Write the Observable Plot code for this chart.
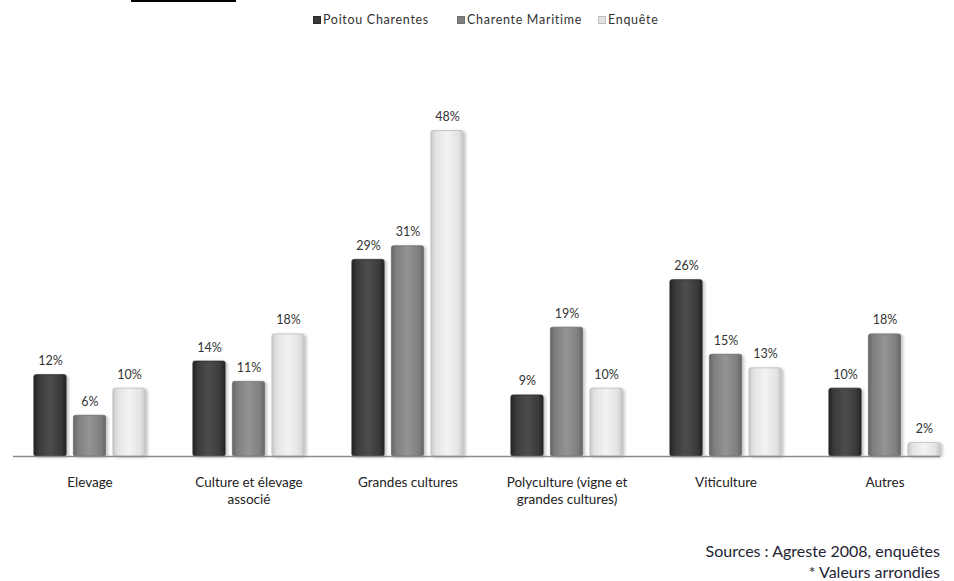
<!DOCTYPE html>
<html>
<head>
<meta charset="utf-8">
<script src="https://cdn.jsdelivr.net/npm/d3@7"></script>
<script src="https://cdn.jsdelivr.net/npm/@observablehq/plot@0.6"></script>
<style>
  html, body { margin: 0; padding: 0; background: #fff; }
  #page { position: relative; width: 954px; height: 581px; overflow: hidden; font-family: Lato, "DejaVu Sans", sans-serif; color: #333; }
  #topline { position: absolute; left: 131px; top: 0; width: 105px; height: 2px; background: #000; }
  .leg { position: absolute; top: 12px; font-size: 12.5px; letter-spacing: 0.7px; color: #333; line-height: 16px; white-space: nowrap; }
  .sw { position: absolute; top: 16px; width: 8px; height: 8px; }
  #chart { position: absolute; left: 0; top: 40px; }
  .src { position: absolute; right: 14px; font-size: 16px; line-height: 14px; color: #1e2433; white-space: nowrap; }
</style>
</head>
<body>
<div id="page">
  <div id="topline"></div>
  <div id="legend"></div>
  <div id="chart"></div>
  <div class="src" style="top:544px;">Sources : Agreste 2008, enquêtes</div>
  <div class="src" style="top:565px;">* Valeurs arrondies</div>
</div>
<script>
const series = ["Poitou Charentes", "Charente Maritime", "Enquête"];
const categories = [
  "Elevage",
  "Culture et élevage\nassocié",
  "Grandes cultures",
  "Polyculture (vigne et\ngrandes cultures)",
  "Viticulture",
  "Autres"
];
const poitouCharentes = [12, 14, 29, 9, 26, 10];
const charenteMaritime = [6, 11, 31, 19, 15, 18];
const enquete = [10, 18, 48, 10, 13, 2];

const seriesValues = [poitouCharentes, charenteMaritime, enquete];
const baseColors = ["#3a3a3a", "#7f7f7f", "#e3e3e3"];
const edgeColors = ["#232323", "#666666", "#c9c9c9"];
const lightColors = ["#4d4d4d", "#949494", "#f3f3f3"];
const strokeColors = ["#2a2a2a", "#6e6e6e", "#bdbdbd"];
const offsets = [-39.5, 0, 39.5];

const data = [];
series.forEach((s, k) => {
  categories.forEach((c, i) => data.push({ category: c, series: s, k, value: seriesValues[k][i] }));
});

// legend
const legend = document.getElementById("legend");
const legPos = [[313, 323], [457, 467], [598, 608]];
series.forEach((s, k) => {
  const sw = document.createElement("div");
  sw.className = "sw";
  sw.style.left = legPos[k][0] + "px";
  sw.style.background = baseColors[k];
  sw.style.border = "1px solid " + strokeColors[k];
  sw.style.boxSizing = "border-box";
  legend.appendChild(sw);
  const t = document.createElement("div");
  t.className = "leg";
  t.style.left = legPos[k][1] + "px";
  t.textContent = s;
  legend.appendChild(t);
});

const marks = [];
series.forEach((s, k) => {
  const sub = data.filter(d => d.k === k);
  marks.push(Plot.barY(sub, {
    x: "category", y: "value",
    fill: `url(#barGrad${k})`,
    stroke: strokeColors[k], strokeWidth: 0.8,
    insetLeft: 63.4, insetRight: 63.4, dx: offsets[k], rx: 2
  }));
  marks.push(Plot.text(sub, {
    x: "category", y: "value", text: d => d.value + "%",
    dx: offsets[k], dy: -14, fontSize: 12.5, fill: "#333"
  }));
});
marks.push(Plot.ruleY([0], { stroke: "#8a8a8a", strokeWidth: 1.3 }));
marks.push(Plot.text(categories, {
  x: d => d, frameAnchor: "bottom", lineAnchor: "top", dy: 18,
  text: d => d, fontSize: 13.5, lineHeight: 1.27, fill: "#222"
}));

const chart = Plot.plot({
  width: 954,
  height: 490,
  marginLeft: 13,
  marginRight: 14,
  marginTop: 77,
  marginBottom: 74,
  style: { fontFamily: "Lato, 'DejaVu Sans', sans-serif", background: "transparent", overflow: "visible" },
  x: { domain: categories, range: [9.9, 965], padding: 0, axis: null },
  y: { domain: [0, 50], axis: null },
  marks
});

// gradient defs for the bevelled bars
const ns = "http://www.w3.org/2000/svg";
const defs = document.createElementNS(ns, "defs");
series.forEach((s, k) => {
  const g = document.createElementNS(ns, "linearGradient");
  g.setAttribute("id", "barGrad" + k);
  g.setAttribute("x1", "0"); g.setAttribute("x2", "1");
  g.setAttribute("y1", "0"); g.setAttribute("y2", "0");
  [[0, edgeColors[k]], [0.15, baseColors[k]], [0.5, lightColors[k]], [0.85, baseColors[k]], [1, edgeColors[k]]].forEach(([o, c]) => {
    const st = document.createElementNS(ns, "stop");
    st.setAttribute("offset", o);
    st.setAttribute("stop-color", c);
    g.appendChild(st);
  });
  defs.appendChild(g);
});
const f = document.createElementNS(ns, "filter");
f.setAttribute("id", "shadow");
f.setAttribute("x", "-20%"); f.setAttribute("y", "-20%");
f.setAttribute("width", "150%"); f.setAttribute("height", "140%");
const ds = document.createElementNS(ns, "feDropShadow");
ds.setAttribute("dx", "2"); ds.setAttribute("dy", "1");
ds.setAttribute("stdDeviation", "1.5");
ds.setAttribute("flood-color", "#000"); ds.setAttribute("flood-opacity", "0.25");
f.appendChild(ds);
defs.appendChild(f);
const svg = chart.tagName.toLowerCase() === "svg" ? chart : chart.querySelector("svg");
svg.insertBefore(defs, svg.firstChild);
svg.querySelectorAll("g[aria-label='bar']").forEach(g => g.setAttribute("filter", "url(#shadow)"));

document.getElementById("chart").appendChild(chart);
</script>
</body>
</html>
